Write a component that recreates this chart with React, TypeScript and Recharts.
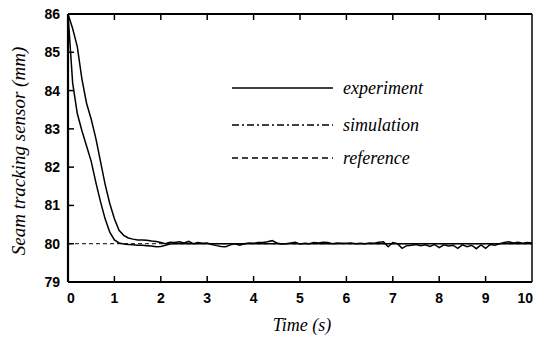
import React from 'react';
import { LineChart, Line, XAxis, YAxis } from 'recharts';

// time axis, seconds (0.1 s steps)
const TIME = Array.from({ length: 101 }, (_, i) => Math.round(i) / 10);

// measured sensor output (mm)
const EXPERIMENT = [
  86.0, 85.62, 85.15, 84.3, 83.67, 83.25, 82.75, 82.15, 81.55, 81.05,
  80.65, 80.35, 80.22, 80.15, 80.12, 80.1, 80.1, 80.09, 80.07, 80.06,
  80.03, 80.0, 80.04, 80.03, 80.05, 80.02, 80.06, 80.0, 80.03, 80.01,
  80.02, 79.98, 79.95, 79.93, 79.92, 79.97, 80.0, 79.96, 80.0, 80.02,
  80.01, 80.03, 80.03, 80.05, 80.08, 80.02, 79.99, 80.0, 80.02, 80.04,
  79.99, 80.01, 80.0, 80.03, 80.02, 80.04, 80.03, 80.0, 80.02, 80.01,
  80.01, 80.02, 80.0, 80.01, 80.0, 80.02, 80.01, 80.04, 80.05, 79.92,
  80.03, 80.0, 79.88, 79.95, 79.96, 79.98, 79.95, 79.97, 79.93, 79.98,
  79.9, 79.97, 79.94, 79.96, 79.88, 79.97, 79.92, 79.96, 79.87, 79.97,
  79.88, 79.98, 79.96, 80.0, 80.03, 80.05, 80.02, 80.04, 80.01, 80.03,
  80.02,
];

// simulated response (mm)
const SIMULATION = [
  86.0, 84.2, 83.4, 82.95, 82.55, 82.15, 81.6, 81.1, 80.65, 80.3,
  80.1, 80.02, 79.99, 79.98, 79.97, 79.96, 79.96, 79.95, 79.94, 79.92,
  79.93, 79.96, 79.99, 80.0, 80.0, 80.0, 80.0, 80.0, 80.0, 80.0,
  ...Array(71).fill(80.0),
];

const REFERENCE = Array(101).fill(80.0);

const X_TICKS = [0, 1, 2, 3, 4, 5, 6, 7, 8, 9, 10];
const Y_TICKS = [79, 80, 81, 82, 83, 84, 85, 86];

const data = TIME.map((t, i) => ({
  t,
  experiment: EXPERIMENT[i],
  simulation: SIMULATION[i],
  reference: REFERENCE[i],
}));

const TOP = 14;
const BOTTOM = 282;
const LEFT = 68;
const RIGHT = 532;
const TICK_FONT = { fontFamily: '"Liberation Sans", Arial, sans-serif', fontWeight: 700, fontSize: 14 };
const SERIF = '"Liberation Serif", "Times New Roman", serif';

const BottomTick = (props: any) => {
  const x = props.payload.coordinate;
  const v = props.payload.value;
  // last label sits on the right edge; keep it inside the frame
  const anchor = v === 10 ? 'end' : 'middle';
  const tx = v === 10 ? 533 : x + (v === 0 ? 3 : 0);
  return (
    <g>
      {v !== 0 && v !== 10 && <line x1={x} x2={x} y1={BOTTOM} y2={BOTTOM - 6} stroke="#000" strokeWidth={1.5} />}
      <text x={tx} y={303} textAnchor={anchor} fill="#000" style={TICK_FONT}>{v}</text>
    </g>
  );
};

const TopTick = (props: any) => {
  const x = props.payload.coordinate;
  const v = props.payload.value;
  if (v === 0 || v === 10) return <g />;
  return <line x1={x} x2={x} y1={TOP} y2={TOP + 6} stroke="#000" strokeWidth={1.5} />;
};

const LeftTick = (props: any) => {
  const y = props.payload.coordinate;
  const v = props.payload.value;
  return (
    <g>
      {v !== 79 && v !== 86 && <line x1={LEFT} x2={LEFT + 6} y1={y} y2={y} stroke="#000" strokeWidth={1.5} />}
      <text x={60} y={y + 5} textAnchor="end" fill="#000" style={TICK_FONT}>{v}</text>
    </g>
  );
};

const RightTick = (props: any) => {
  const y = props.payload.coordinate;
  const v = props.payload.value;
  if (v === 79 || v === 86) return <g />;
  return <line x1={RIGHT} x2={RIGHT - 6} y1={y} y2={y} stroke="#000" strokeWidth={1.5} />;
};

export default function App() {
  return (
    <div style={{ position: 'absolute', left: 0, top: 0, width: 533, height: 337, background: '#fff' }}>
      <LineChart width={533} height={337} data={data} margin={{ top: 0, right: 0, bottom: 0, left: 0 }}>
        <XAxis
          dataKey="t"
          type="number"
          domain={[0, 10]}
          ticks={X_TICKS}
          height={55}
          tickLine={false}
          axisLine={{ stroke: '#000', strokeWidth: 2 }}
          tick={<BottomTick />}
          interval={0}
        />
        <XAxis
          xAxisId="top"
          orientation="top"
          dataKey="t"
          type="number"
          domain={[0, 10]}
          ticks={X_TICKS}
          height={TOP}
          tickLine={false}
          axisLine={{ stroke: '#000', strokeWidth: 2 }}
          tick={<TopTick />}
          interval={0}
        />
        <YAxis
          type="number"
          domain={[79, 86]}
          ticks={Y_TICKS}
          width={LEFT}
          tickLine={false}
          axisLine={{ stroke: '#000', strokeWidth: 2.2 }}
          tick={<LeftTick />}
          interval={0}
        />
        <YAxis
          yAxisId="right"
          orientation="right"
          type="number"
          domain={[79, 86]}
          ticks={Y_TICKS}
          width={1}
          tickLine={false}
          axisLine={{ stroke: '#000', strokeWidth: 1.5 }}
          tick={<RightTick />}
          interval={0}
        />
        <Line dataKey="reference" stroke="#000" strokeWidth={1} strokeDasharray="4 3" dot={false} isAnimationActive={false} />
        <Line dataKey="simulation" stroke="#000" strokeWidth={1.5} dot={false} isAnimationActive={false} />
        <Line dataKey="experiment" stroke="#000" strokeWidth={1.5} dot={false} isAnimationActive={false} />
      </LineChart>
      <svg width={533} height={337} style={{ position: 'absolute', left: 0, top: 0, pointerEvents: 'none' }}>
        <line x1={232} x2={333} y1={88} y2={88} stroke="#000" strokeWidth={1.6} />
        <line x1={232} x2={333} y1={125} y2={125} stroke="#000" strokeWidth={1.6} strokeDasharray="7 3 2 3" />
        <line x1={232} x2={333} y1={158} y2={158} stroke="#000" strokeWidth={1.6} strokeDasharray="6 4" />
        <g fontFamily={SERIF} fontStyle="italic" fontSize={18} fill="#000">
          <text x={343} y={94}>experiment</text>
          <text x={343} y={131}>simulation</text>
          <text x={343} y={164}>reference</text>
          <text x={302} y={331} textAnchor="middle">Time (s)</text>
          <text x={0} y={0} textAnchor="middle" fontSize={19} transform="translate(25,151) rotate(-90)">Seam tracking sensor (mm)</text>
        </g>
      </svg>
    </div>
  );
}
